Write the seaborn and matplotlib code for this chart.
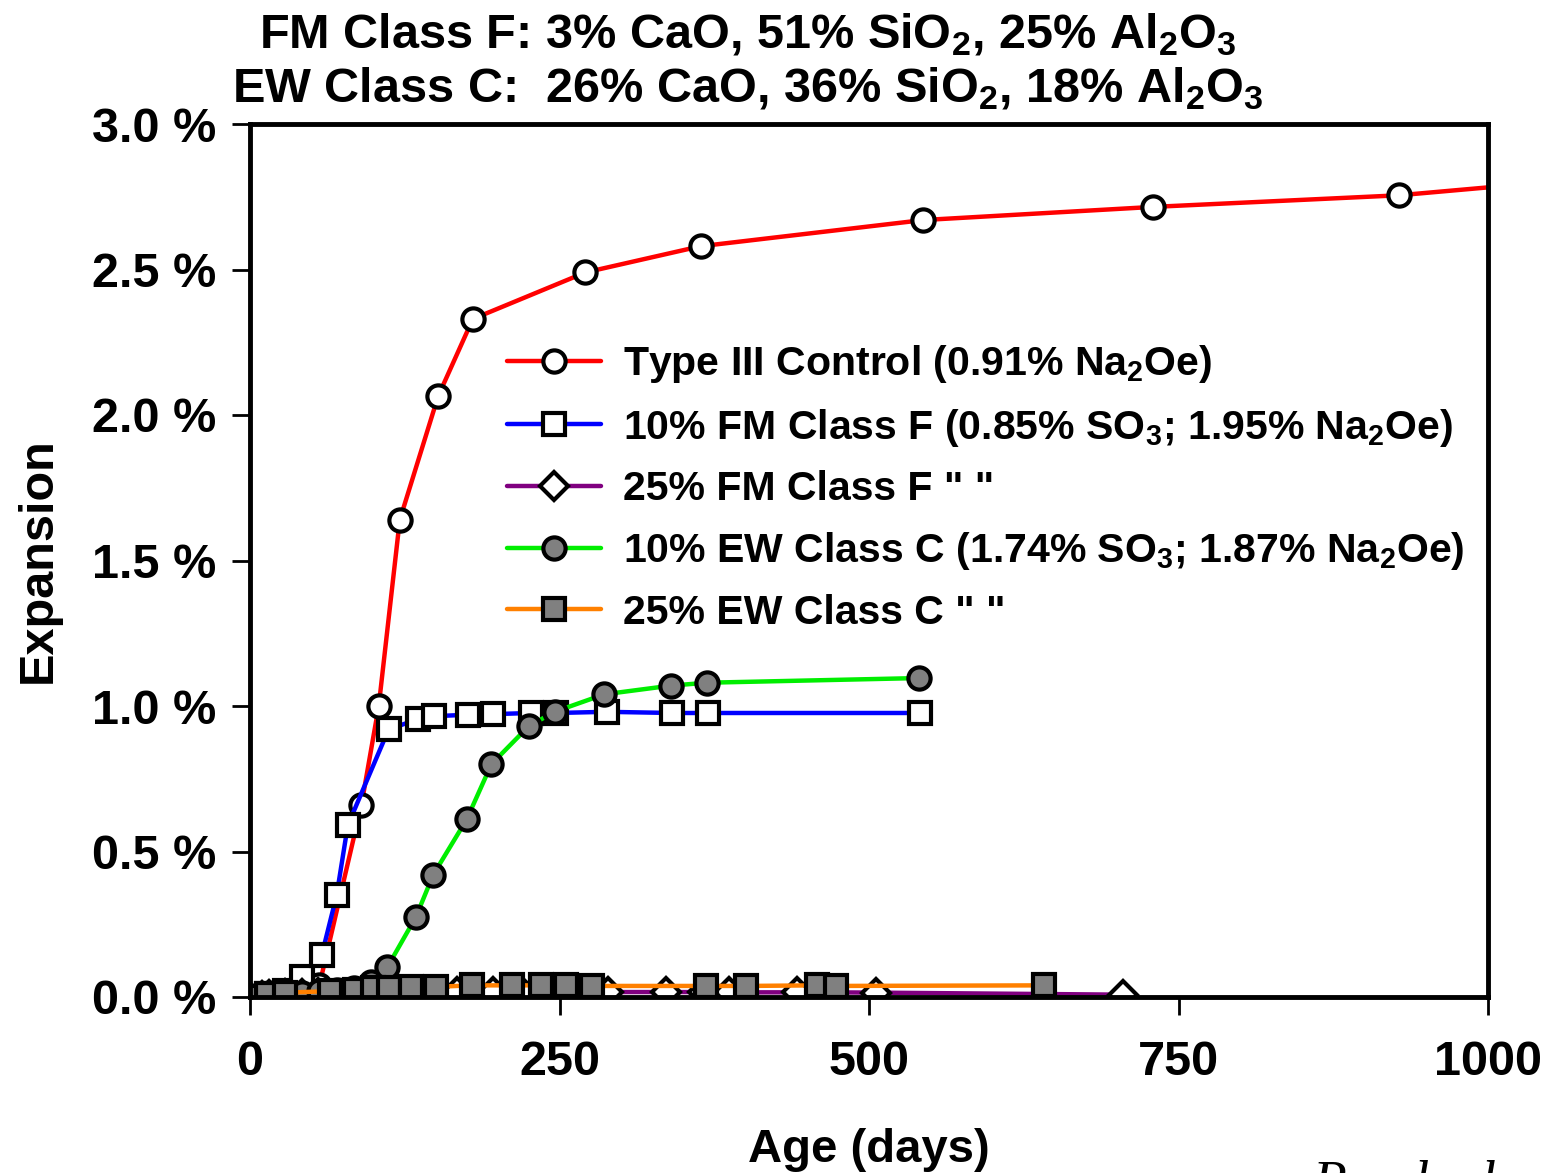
import matplotlib
matplotlib.use("Agg")
import matplotlib.pyplot as plt
import seaborn as sns
import pandas as pd
from matplotlib.ticker import FuncFormatter, FixedLocator

# ---- data (expansion in %) ----
ctrl_days = [0, 14, 28, 42, 56, 90, 104, 121, 152, 180, 271, 364, 544, 729, 928, 1100]
ctrl_exp = [0.0, 0.005, 0.01, 0.02, 0.04, 0.66, 1.00, 1.64, 2.065, 2.33, 2.49, 2.58, 2.67, 2.715, 2.755, 2.82]

fm10_days = [0, 14, 28, 42, 58, 70, 79, 112, 136, 149, 176, 196, 227, 247, 288, 341, 370, 541]
fm10_exp = [0.0, 0.01, 0.02, 0.07, 0.145, 0.35, 0.59, 0.92, 0.955, 0.965, 0.97, 0.972, 0.976, 0.976, 0.98, 0.976, 0.976, 0.976]

fm25_days = [0, 10, 15, 28, 42, 55, 111, 125, 139, 167, 196, 220, 275, 289, 336, 366, 387, 442, 470, 506, 705]
fm25_exp = [0.0, 0.005, 0.008, 0.01, 0.012, 0.014, 0.016, 0.016, 0.017, 0.017, 0.017, 0.017, 0.017, 0.017, 0.017, 0.017, 0.016, 0.016, 0.016, 0.015, 0.008]

ew10_days = [0, 14, 28, 42, 56, 70, 84, 98, 111, 134, 148, 175, 195, 225, 246, 286, 340, 369, 540]
ew10_exp = [0.0, 0.005, 0.01, 0.015, 0.02, 0.025, 0.03, 0.05, 0.103, 0.275, 0.42, 0.61, 0.80, 0.93, 0.98, 1.04, 1.07, 1.08, 1.096]

ew25_days = [0, 14, 28, 65, 85, 99, 112, 130, 150, 179, 212, 235, 255, 276, 368, 401, 458, 473, 641]
ew25_exp = [0.0, 0.01, 0.015, 0.02, 0.025, 0.03, 0.032, 0.035, 0.035, 0.04, 0.04, 0.04, 0.04, 0.038, 0.038, 0.038, 0.04, 0.038, 0.04]

labels = [
    r"Type III Control (0.91% Na$_\mathbf{2}$Oe)",
    r"10% FM Class F (0.85% SO$_\mathbf{3}$; 1.95% Na$_\mathbf{2}$Oe)",
    '25% FM Class F " "',
    r"10% EW Class C (1.74% SO$_\mathbf{3}$; 1.87% Na$_\mathbf{2}$Oe)",
    '25% EW Class C " "',
]

x_ticks = [0, 250, 500, 750, 1000]
y_ticks = [0.0, 0.5, 1.0, 1.5, 2.0, 2.5, 3.0]

title_lines = [
    r"FM Class F: 3% CaO, 51% SiO$_\mathrm{2}$, 25% Al$_\mathrm{2}$O$_\mathrm{3}$",
    r"EW Class C:  26% CaO, 36% SiO$_\mathrm{2}$, 18% Al$_\mathrm{2}$O$_\mathrm{3}$",
]

# ---- style ----
sns.set_theme(style="white")
plt.rcParams["font.family"] = ["Liberation Sans", "DejaVu Sans"]
plt.rcParams["font.weight"] = "bold"
plt.rcParams["text.color"] = "black"
plt.rcParams["axes.labelcolor"] = "black"
plt.rcParams["xtick.color"] = "black"
plt.rcParams["ytick.color"] = "black"
plt.rcParams["mathtext.fontset"] = "custom"
plt.rcParams["mathtext.rm"] = "Liberation Sans"
plt.rcParams["mathtext.bf"] = "Liberation Sans:bold"
plt.rcParams["mathtext.default"] = "regular"

fig = plt.figure(figsize=(15.52, 11.73), dpi=100)
ax = fig.add_axes([250 / 1552, 1 - 997 / 1173, (1488 - 250) / 1552, (997 - 124) / 1173])

series = [
    (ctrl_days, ctrl_exp, "#ff0000", "o", "white"),
    (fm10_days, fm10_exp, "#0000ff", "s", "white"),
    (fm25_days, fm25_exp, "#800080", "D", "white"),
    (ew10_days, ew10_exp, "#00ee00", "o", "#808080"),
    (ew25_days, ew25_exp, "#ff8000", "s", "#808080"),
]

for (d, v, c, m, fc), lab in zip(series, labels):
    df = pd.DataFrame({"Age": d, "Exp": v})
    ms = 16 if m != "D" else 14.5
    sns.lineplot(data=df, x="Age", y="Exp", ax=ax, color=c, linewidth=3.2,
                 marker=m, markersize=ms, markerfacecolor=fc,
                 markeredgecolor="black", markeredgewidth=3.0,
                 estimator=None, sort=False, label=lab)

ax.set_xlim(0, 1000)
ax.set_ylim(0, 3.0)
ax.xaxis.set_major_locator(FixedLocator(x_ticks))
ax.yaxis.set_major_locator(FixedLocator(y_ticks))
ax.yaxis.set_major_formatter(FuncFormatter(lambda v, p: f"{v:.1f} %"))
ax.tick_params(axis="both", which="major", direction="out", length=13, width=2,
               color="black", labelsize=35, labelcolor="black",
               bottom=True, left=True)
ax.tick_params(axis="y", pad=11)
ax.tick_params(axis="x", pad=18)
for lab in ax.get_xticklabels() + ax.get_yticklabels():
    lab.set_fontweight("bold")
for sp in ax.spines.values():
    sp.set_color("black")
    sp.set_linewidth(3.5)

ax.set_xlabel("Age (days)", fontsize=34, fontweight="bold")
ax.set_ylabel("Expansion", fontsize=35, fontweight="bold")
ax.xaxis.set_label_coords(0.5, -0.150)
ax.yaxis.set_label_coords(-0.153, 0.5)

leg = ax.legend(loc="upper left", bbox_to_anchor=(0.194, 0.768), frameon=False,
                fontsize=29.5, handlelength=2.3, handletextpad=0.55,
                labelspacing=0.53, borderaxespad=0)
for t in leg.get_texts():
    t.set_fontweight("bold")
    t.set_color("black")

fig.text(748 / 1552, 1 - 35 / 1173, title_lines[0], ha="center", va="center",
         fontsize=35, fontweight="bold")
fig.text(748 / 1552, 1 - 89 / 1173, title_lines[1], ha="center", va="center",
         fontsize=35, fontweight="bold")

fig.text(1312 / 1552, 1 - 1200 / 1173, "Ramlochan", ha="left", va="baseline",
         fontsize=40, style="italic", fontweight="normal",
         family=["Liberation Serif", "DejaVu Serif"])

fig.savefig("out.png", dpi=100)
